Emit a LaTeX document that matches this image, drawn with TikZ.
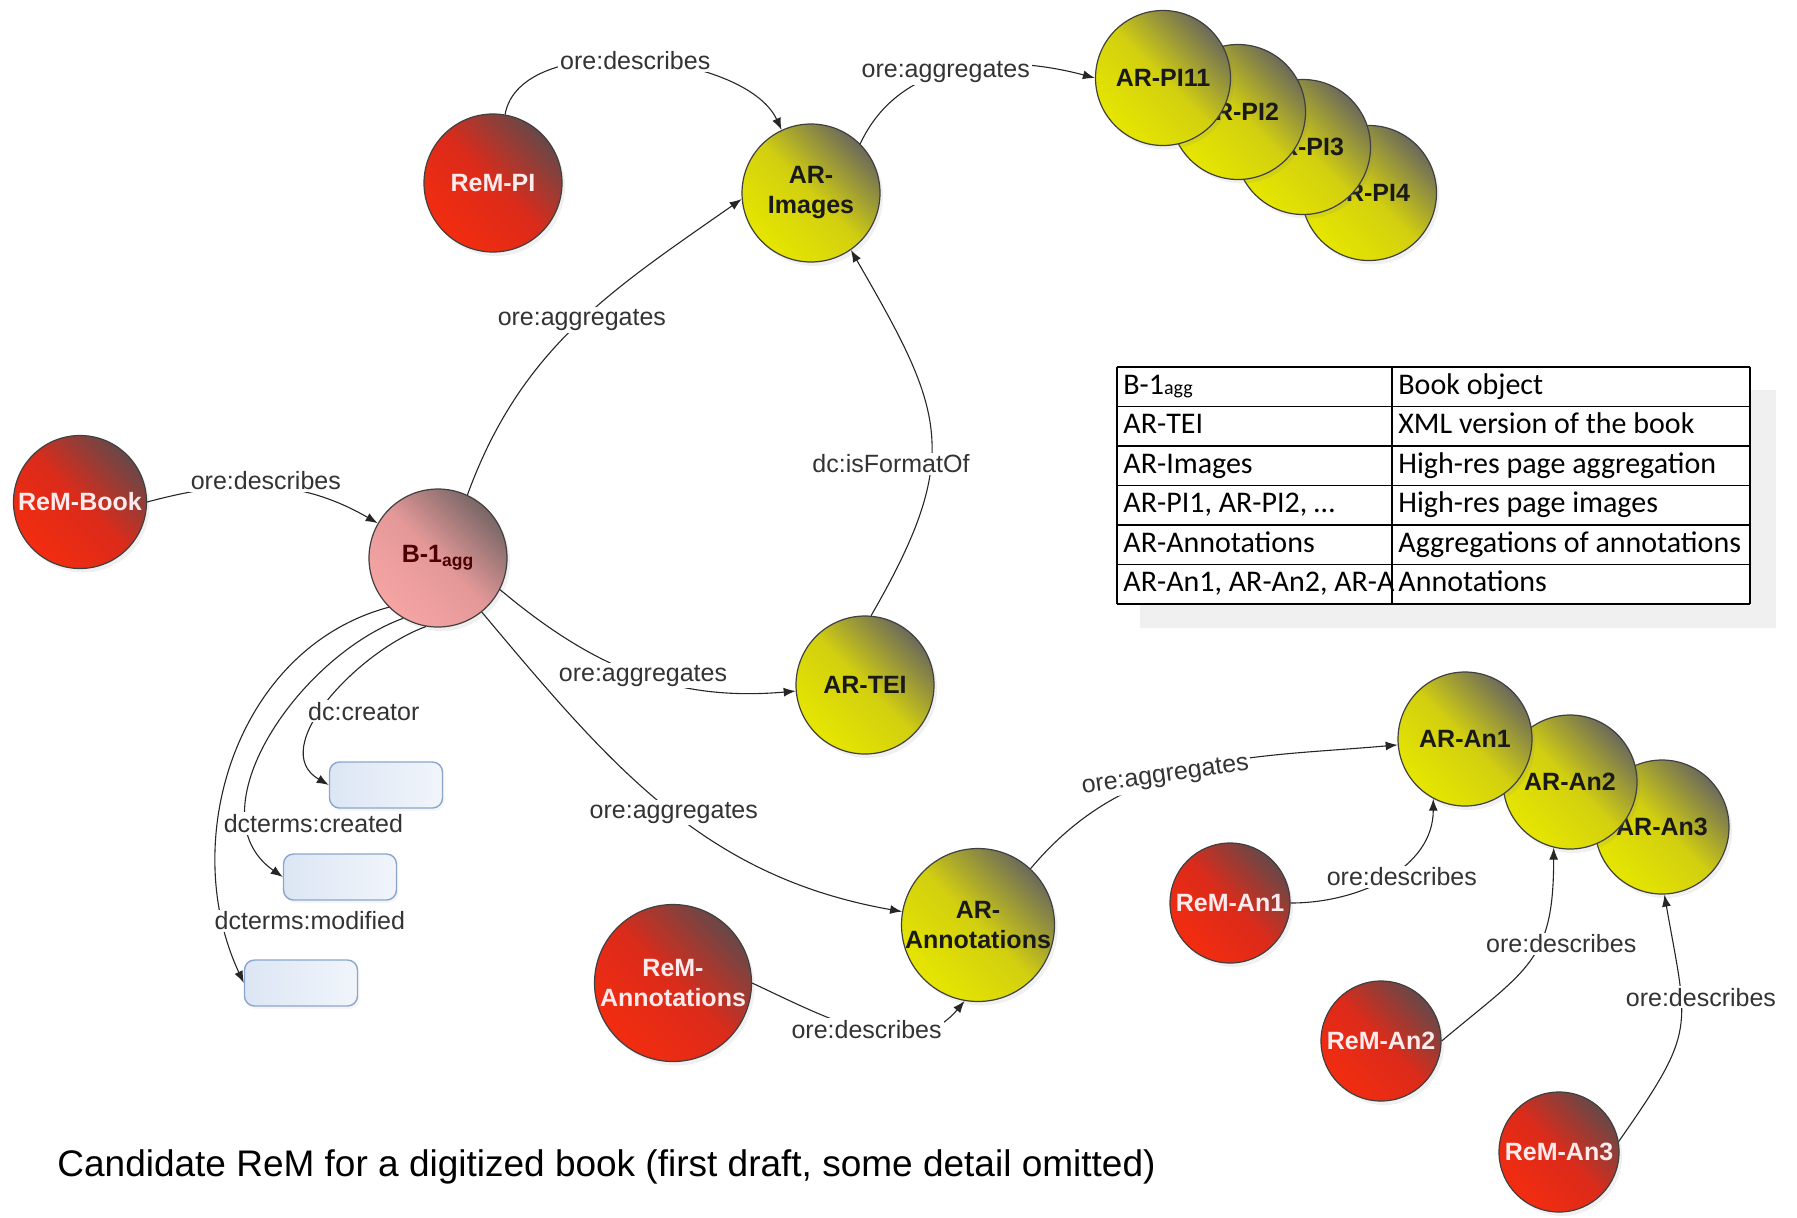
\documentclass[tikz,border=0pt]{standalone}
\usepackage{fontspec}
\setmainfont{Liberation Sans}
\newfontfamily\cellfont{Carlito}
\usetikzlibrary{arrows.meta,shadows}

\definecolor{rembright}{HTML}{F22C10}
\definecolor{remmid}{HTML}{DC2B1A}
\definecolor{remdark}{HTML}{684848}
\definecolor{arbright}{HTML}{E6E600}
\definecolor{armid}{HTML}{D2CF10}
\definecolor{ardark}{HTML}{6C6A5A}
\definecolor{aggbright}{HTML}{F6A4A4}
\definecolor{aggmid}{HTML}{E49898}
\definecolor{aggdark}{HTML}{786666}
\definecolor{litline}{HTML}{8AA6CC}
\definecolor{litfill}{HTML}{DCE6F4}

\tikzset{
    res/.style={circle, draw=black!75, line width=.6pt, minimum size=69pt, inner sep=0pt,
        align=center, font=\bfseries\fontsize{12.5}{15}\selectfont,
        drop shadow={shadow xshift=1.5pt, shadow yshift=-2pt, opacity=.12}},
    rem/.style={res, text=white!92!red, top color=remdark, bottom color=rembright,
        middle color=remmid, shading angle=-45},
    ar/.style={res, text=black!90, top color=ardark, bottom color=arbright,
        middle color=armid, shading angle=-45},
    agg/.style={res, text=black!70!red, top color=aggdark, bottom color=aggbright,
        middle color=aggmid, shading angle=-45},
    lit/.style={rounded corners=5pt, draw=litline, line width=.7pt, left color=litfill,
        right color=litfill!40, minimum width=56.5pt, minimum height=23pt,
        drop shadow={shadow xshift=1pt, shadow yshift=-1.5pt, opacity=.08}},
    rel/.style={-{Latex[length=6pt, width=4.5pt]}, line width=.55pt, black!85},
    lbl/.style={fill=white, inner sep=1pt, text=black!80, font=\fontsize{12.5}{15}\selectfont},
    cell/.style={anchor=west, inner xsep=3pt, inner ysep=0pt, text height=10.5pt, text depth=3pt,
        font=\cellfont\fontsize{15}{18}\selectfont},
    tabline/.style={line width=.8pt, black}
}

\begin{document}
\begin{tikzpicture}[x=0.5pt, y=0.5pt]
    \def \rowh {39.5}
    \useasboundingbox (0,0) rectangle (1797,-1217);
    % resource maps and aggregations
    \node[rem] (rempi) at (493,-183) {ReM-PI};
    \node[ar] (arimg) at (811,-193) {AR-\\Images};
    \foreach \n/\x/\y/\lab in {4/1369/193/AR-PI4, 3/1303/147/AR-PI3, 2/1238/112/AR-PI2, 1/1163/78/AR-PI11}
        \node[ar, minimum size=67.5pt] (pi\n) at (\x,-\y) {\lab};
    \node[rem, minimum size=66.5pt] (rembook) at (80,-502) {ReM-Book};
    \node[agg] (b1) at (438,-558) {B-1\textsubscript{agg}};
    \node[ar] (artei) at (865,-685) {AR-TEI};
    \node[ar] (arann) at (978,-925) {AR-\\Annotations};
    \node[rem, minimum size=78.5pt] (remann) at (673,-983) {ReM-\\Annotations};
    \foreach \n/\x/\y in {3/1662/827, 2/1570/782, 1/1465/739}
        \node[ar, minimum size=67pt] (an\n) at (\x,-\y) {AR-An\n};
    \foreach \n/\x/\y in {1/1230/903, 2/1381/1041, 3/1559/1152}
        \node[rem, minimum size=60pt] (reman\n) at (\x,-\y) {ReM-An\n};
    % literal values
    \node[lit] (creator) at (386,-785) {};
    \node[lit] (created) at (340,-877) {};
    \node[lit] (modified) at (301,-983) {};

    \draw[rel] (rempi) to[out=80, in=115, looseness=.8] node[lbl] {ore:describes} (arimg);
    \draw[rel] (arimg.45) to[out=65, in=165] node[lbl, pos=.45] {ore:aggregates} (pi1.180);
    \draw[rel] (b1.65) to[out=70, in=215] node[lbl, pos=.52] {ore:aggregates} (arimg.185);
    \draw[rel] (rembook.east) to[out=15, in=150] node[lbl, yshift=3pt] {ore:describes} (b1);
    \draw[rel] (artei.85) to[out=60, in=-60, looseness=1.3] node[lbl, pos=.4, xshift=-20pt] {dc:isFormatOf} (arimg.-55);
    \draw[rel] (b1.-27) to[out=-40, in=185] node[lbl, pos=.52] {ore:aggregates} (artei);
    \draw[rel] (b1.-51) to[out=-50, in=170] node[lbl, pos=.52] {ore:aggregates} (arann);
    \draw[rel] (remann.east) to[out=-25, in=-130] node[lbl] {ore:describes} (arann.-100);
    \draw[rel] (arann.47) to[out=50, in=185] node[lbl, pos=.42, rotate=8] {ore:aggregates} (an1);
    \draw[rel] (reman1.east) to[out=0, in=-90] node[lbl, xshift=7pt] {ore:describes} (an1.-118);
    \draw[rel] (reman2.east) to[out=40, in=-90, looseness=1.3] node[lbl, pos=.6, xshift=11pt] {ore:describes} (an2.-104);
    \draw[rel] (reman3.10) to[out=55, in=-80, looseness=1.4] node[lbl, pos=.65, xshift=10pt] {ore:describes} (an3.-88);
    \draw[rel] (b1.-100) to[out=200, in=150] node[lbl, pos=.55, anchor=west, xshift=-8pt] {dc:creator} (creator.west);
    \draw[rel] (b1.-120) to[out=200, in=145] node[lbl, pos=.78, anchor=west, xshift=-14pt] {dcterms:created} (created.west);
    \draw[rel] (b1.-135) to[out=195, in=115] node[lbl, pos=.86, anchor=west, xshift=-5.5pt] {dcterms:modified} (modified.west);

    % legend table
    \fill[black!6] (1140,-390) rectangle (1776,-628);
    \fill[white] (1117,-367) rectangle (1750,-604);
    \foreach \k/\tk/\td in {0/{B-1{\fontsize{10}{12}\selectfont agg}}/Book object,
        1/AR-TEI/XML version of the book, 2/AR-Images/High-res page aggregation,
        3/{AR-PI1, AR-PI2, …}/High-res page images, 4/AR-Annotations/Aggregations of annotations,
        5/{AR-An1, AR-An2, AR-A}/Annotations}
    {
        \node[cell] (key\k) at (1117,{-367-\rowh*\k-\rowh/2}) {\tk};
        \node[cell] (desc\k) at (1392,{-367-\rowh*\k-\rowh/2}) {\td};
    }
    \foreach \k in {0,...,6}
        \draw[tabline] (1117,{-367-\rowh*\k}) -- (1750,{-367-\rowh*\k});
    \foreach \x in {1117,1392,1750}
        \draw[tabline] (\x,-367) -- (\x,-604);

    \node[anchor=west, inner sep=0pt, font=\fontsize{18.5}{22}\selectfont] (caption) at (57,-1167)
        {Candidate ReM for a digitized book (first draft, some detail omitted)};
\end{tikzpicture}
\end{document}
